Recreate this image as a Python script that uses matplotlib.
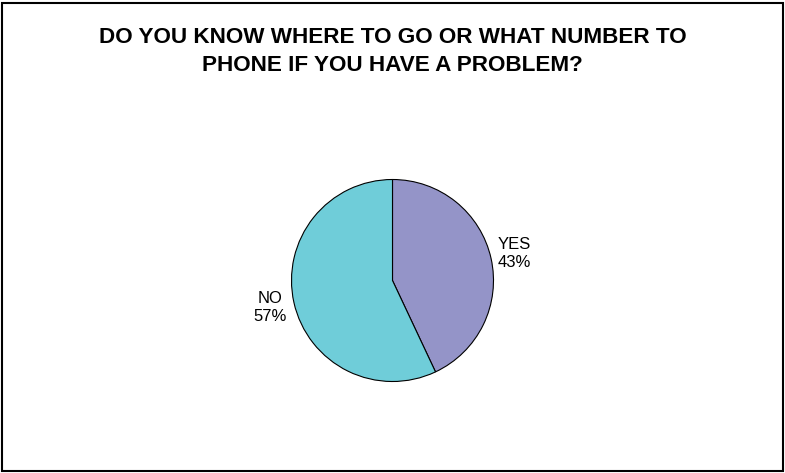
import matplotlib.pyplot as plt
from matplotlib.patches import Rectangle

labels = ['YES', 'NO']
values = [43, 57]
colors = ['#9494C8', '#6FCDD9']
title = 'DO YOU KNOW WHERE TO GO OR WHAT NUMBER TO\nPHONE IF YOU HAVE A PROBLEM?'

plt.rcParams['font.family'] = ['Liberation Sans', 'DejaVu Sans']

fig = plt.figure(figsize=(7.85, 4.73), dpi=100)

# frame round the whole chart
fig.patches.append(Rectangle((2/785, 2/473), 781/785, 468/473, transform=fig.transFigure,
                             fill=False, edgecolor='black', linewidth=1.5))

W, H = 785, 473
cx, cy, r = 392.5, 473 - 280.5, 101
ax = fig.add_axes([(cx - r)/W, (cy - r)/H, 2*r/W, 2*r/H])

wedges, texts = ax.pie(values, colors=colors, startangle=90, counterclock=False,
                       labels=['%s\n%d%%' % (l, v) for l, v in zip(labels, values)],
                       labeldistance=1.24,
                       wedgeprops=dict(edgecolor='black', linewidth=0.8),
                       textprops=dict(fontsize=12, linespacing=1.25))
for t in texts:
    t.set_ha('center')
    t.set_va('center')
ax.set_xlim(-1, 1)
ax.set_ylim(-1, 1)
ax.set_aspect('equal')

fig.text(0.5, 1 - 51.5/H, title, ha='center', va='center', fontsize=16.2,
         fontweight='bold', linespacing=1.45)

plt.savefig('out.png', dpi=100)
